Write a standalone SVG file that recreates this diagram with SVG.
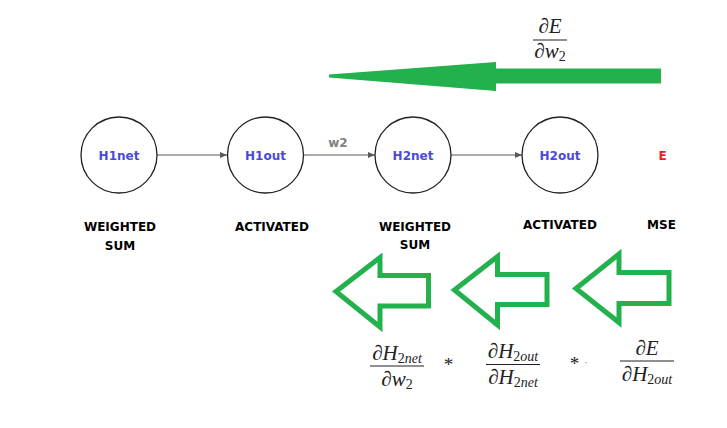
<svg xmlns="http://www.w3.org/2000/svg" width="727" height="428" viewBox="0 0 727 428">
<defs>
<marker id="ah" markerWidth="8" markerHeight="8" refX="7" refY="4" orient="auto" markerUnits="userSpaceOnUse">
<path d="M0,1 L7,4 L0,7 Z" fill="#595959"/>
</marker>
<style>
.node{fill:#fff;stroke:#222;stroke-width:1.3}
.nl{font-family:"DejaVu Sans",sans-serif;font-weight:bold;font-size:12px;fill:#4a4ad8;text-anchor:middle}
.lab{font-family:"DejaVu Sans",sans-serif;font-weight:bold;font-size:12px;fill:#000;text-anchor:middle}
.conn{stroke:#595959;stroke-width:1;fill:none;marker-end:url(#ah)}
.math{font-family:"Liberation Serif",serif;font-style:italic;font-size:21px;fill:#222;text-anchor:middle}
.sub{font-size:14px}
.up{font-style:normal}
.frac{stroke:#222;stroke-width:1.1}
.hollow{fill:none;stroke:#22b14c;stroke-width:5;stroke-linejoin:miter}
</style>
</defs>
<rect width="727" height="428" fill="#fff"/>

<g id="connectors">
<line class="conn" x1="157" y1="155" x2="227" y2="155"/>
<line class="conn" x1="304" y1="155" x2="375" y2="155"/>
<line class="conn" x1="451" y1="155" x2="522" y2="155"/>
<text x="338" y="147" font-family="DejaVu Sans,sans-serif" font-weight="bold" font-size="12" fill="#808080" text-anchor="middle">w2</text>
</g>

<g id="H1net"><circle class="node" cx="119" cy="155" r="38"/><text class="nl" x="119" y="159.5">H1net</text></g>
<g id="H1out"><circle class="node" cx="265.5" cy="155" r="38"/><text class="nl" x="265.5" y="159.5">H1out</text></g>
<g id="H2net"><circle class="node" cx="413" cy="155" r="38"/><text class="nl" x="413" y="160">H2net</text></g>
<g id="H2out"><circle class="node" cx="560" cy="155" r="38"/><text class="nl" x="560" y="160">H2out</text></g>
<g id="E"><text x="662.5" y="159.5" font-family="DejaVu Sans,sans-serif" font-weight="bold" font-size="12" fill="#e8202a" text-anchor="middle">E</text></g>

<g id="labels">
<text class="lab" x="120" y="231">WEIGHTED</text>
<text class="lab" x="120" y="250">SUM</text>
<text class="lab" x="272" y="230.5">ACTIVATED</text>
<text class="lab" x="415" y="230.5">WEIGHTED</text>
<text class="lab" x="415" y="249">SUM</text>
<text class="lab" x="560" y="228.5">ACTIVATED</text>
<text class="lab" x="661.5" y="228.5">MSE</text>
</g>

<g id="top-arrow">
<polygon points="329,74.5 496,62 496,68.5 661,68.5 661,83.5 496,83.5 496,91 329,77.5" fill="#22b14c"/>
<text class="math" x="550" y="33">∂E</text>
<line class="frac" x1="533" y1="40" x2="567" y2="40"/>
<text class="math" x="550" y="58">∂w<tspan class="sub up" dy="3">2</tspan></text>
</g>

<g id="hollow-arrows">
<polygon class="hollow" points="336,291.5 380,257.5 380,275.5 428.5,275.5 428.5,306 380,306 380,327" />
<polygon class="hollow" points="454.5,290 497.5,256.5 497.5,274.5 547,274.5 547,304.5 497.5,304.5 497.5,325" />
<polygon class="hollow" points="576,288.5 619,254 619,272.5 669,272.5 669,303.5 619,303.5 619,322.5" />
</g>

<g id="formula">
<text class="math" x="397" y="360">∂H<tspan class="sub" dy="3"><tspan class="up">2</tspan>net</tspan></text>
<line class="frac" x1="370" y1="366" x2="424" y2="366"/>
<text class="math" x="397" y="386">∂w<tspan class="sub up" dy="3">2</tspan></text>
<text x="448.5" y="371" font-family="Liberation Serif,serif" font-size="19" fill="#222" text-anchor="middle">*</text>
<text class="math" x="513" y="358">∂H<tspan class="sub" dy="3"><tspan class="up">2</tspan>out</tspan></text>
<line class="frac" x1="486" y1="364.5" x2="540" y2="364.5"/>
<text class="math" x="513" y="384">∂H<tspan class="sub" dy="3"><tspan class="up">2</tspan>net</tspan></text>
<text x="574.5" y="370" font-family="Liberation Serif,serif" font-size="19" fill="#222" text-anchor="middle">*</text>
<text x="586" y="366" font-family="Liberation Serif,serif" font-size="10" fill="#666" text-anchor="middle">·</text>
<text class="math" x="647" y="355">∂E</text>
<line class="frac" x1="620" y1="361" x2="674" y2="361"/>
<text class="math" x="647" y="381">∂H<tspan class="sub" dy="3"><tspan class="up">2</tspan>out</tspan></text>
</g>
</svg>
